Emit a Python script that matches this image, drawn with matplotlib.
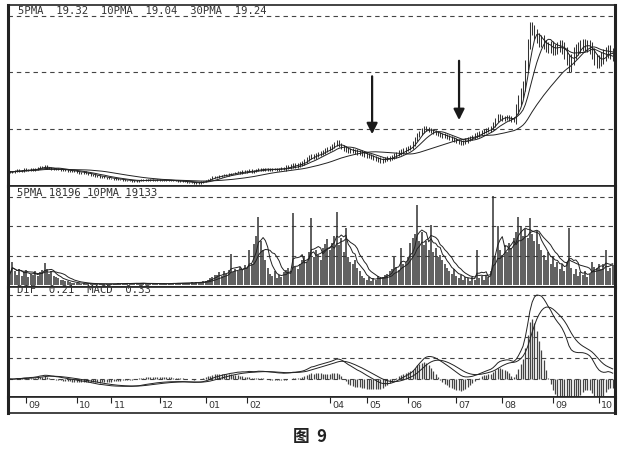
import matplotlib.pyplot as plt
import matplotlib.transforms as mtransforms
import numpy as np
import pandas as pd

# daily closes
close = [
    10.95, 10.90, 11.00, 11.05, 10.98, 11.02, 11.10, 11.06, 11.04, 11.12,
    11.08, 11.15, 11.20, 11.28, 11.25, 11.32, 11.22, 11.18, 11.12, 11.15,
    11.10, 11.14, 11.08, 11.05, 11.07, 11.02, 11.00, 10.96, 11.00, 10.93,
    10.88, 10.85, 10.90, 10.82, 10.78, 10.74, 10.70, 10.66, 10.62, 10.58,
    10.62, 10.55, 10.50, 10.46, 10.48, 10.44, 10.42, 10.40, 10.38, 10.36,
    10.34, 10.30, 10.33, 10.28, 10.30, 10.26, 10.32, 10.35, 10.33, 10.36,
    10.34, 10.37, 10.35, 10.33, 10.36, 10.34, 10.32, 10.35, 10.33, 10.31,
    10.32, 10.29, 10.30, 10.27, 10.28, 10.24, 10.22, 10.20, 10.18, 10.16,
    10.14, 10.18, 10.15, 10.20, 10.26, 10.34, 10.40, 10.48, 10.56, 10.60,
    10.58, 10.65, 10.68, 10.72, 10.70, 10.78, 10.82, 10.80, 10.88, 10.92,
    10.88, 10.95, 10.90, 10.98, 11.05, 10.96, 11.00, 11.08, 11.15, 11.10,
    11.12, 11.10, 11.14, 11.08, 11.12, 11.15, 11.10, 11.14, 11.18, 11.16,
    11.25, 11.30, 11.35, 11.42, 11.38, 11.45, 11.50, 11.58, 11.70, 11.85,
    12.00, 12.08, 11.98, 12.15, 12.22, 12.28, 12.35, 12.45, 12.55, 12.62,
    12.75, 12.90, 13.00, 12.85, 12.70, 12.58, 12.50, 12.42, 12.48, 12.40,
    12.38, 12.30, 12.35, 12.25, 12.15, 12.10, 12.05, 11.98, 11.90, 11.85,
    11.80, 11.72, 11.78, 11.85, 11.88, 11.92, 12.00, 12.10, 12.20, 12.30,
    12.38, 12.45, 12.55, 12.62, 12.70, 12.95, 13.25, 13.55, 13.70, 13.85,
    14.02, 13.95, 13.88, 13.80, 13.75, 13.68, 13.60, 13.55, 13.50, 13.45,
    13.40, 13.33, 13.25, 13.20, 13.10, 13.05, 12.98, 13.05, 13.15, 13.25,
    13.33, 13.40, 13.50, 13.58, 13.68, 13.75, 13.82, 13.90, 13.95, 14.04,
    14.30, 14.60, 14.85, 14.78, 14.70, 14.75, 14.80, 14.72, 14.60, 14.67,
    15.40, 16.00, 16.50, 17.00, 18.50, 20.00, 21.20, 21.00, 20.70, 20.40,
    20.15, 20.30, 19.95, 19.80, 19.70, 19.85, 19.55, 19.65, 19.80, 19.90,
    19.70, 19.35, 18.90, 18.40, 18.90, 19.35, 19.60, 19.75, 19.90, 19.95,
    19.90, 19.85, 19.70, 19.30, 18.90, 18.70, 18.80, 19.00, 19.20, 19.40,
    19.55, 19.30, 19.15,
]

# daily volume in thousands
volume = [
    10, 20, 12, 9, 14, 8, 11, 13, 7, 10,
    9, 12, 8, 11, 13, 19, 14, 10, 12, 8,
    7, 6, 5, 4.5, 4, 3.5, 3, 2.5, 2.2, 2,
    1.8, 1.5, 2, 1.6, 1.4, 1.2, 1.5, 1.3, 1.1, 1.4,
    1.2, 1.4, 1.0, 1.3, 1.6, 1.2, 1.5, 1.8, 1.4, 1.6,
    1.8, 2.0, 1.5, 1.7, 2.2, 1.9, 1.6, 2.0, 1.8, 1.5,
    1.3, 1.5, 1.8, 1.4, 1.6, 1.2, 1.5, 1.7, 1.4, 1.6,
    1.9, 2.2, 1.8, 2.0, 1.7, 2.3, 2.1, 1.8, 2.4, 2.6,
    2.2, 2.8, 2.5, 3.0, 3.5, 4.0, 5.0, 6.5, 7.0, 8.5,
    9, 11, 8, 12, 10, 13, 27, 11, 14, 12,
    16, 13, 17, 15, 30, 18, 35, 42, 58, 38,
    30, 22, 15, 10, 8, 12, 6, 9, 7, 11,
    13, 15, 12, 61, 16, 14, 18, 22, 25, 20,
    28, 57, 24, 30, 26, 22, 32, 35, 39, 30,
    36, 42, 62, 34, 40, 28, 49, 24, 20, 18,
    22, 15, 12, 8, 6, 5, 7, 4, 6, 5,
    8, 6, 7, 9, 10, 12, 14, 24, 16, 13,
    32, 18, 20, 24, 36, 40, 44, 68, 38, 45,
    34, 38, 30, 51, 28, 32, 24, 26, 22, 18,
    15, 12, 10, 14, 8, 6, 9, 5, 7, 6,
    4, 7, 5, 30, 6, 8, 5, 9, 7, 12,
    76, 25, 50, 30, 26, 34, 28, 36, 32, 40,
    45, 58, 50, 42, 48, 40, 57, 44, 38, 46,
    35, 30, 26, 22, 28, 18, 24, 16, 20, 14,
    18, 12, 20, 49, 15, 10, 14, 8, 11, 9,
    12, 7, 10, 20, 16, 15, 18, 14, 18, 30,
    12, 15, 17,
]

# extra high/low reach of the price bars, one value per 20 days
bar_spread = [0.07, 0.07, 0.05, 0.04, 0.05, 0.08, 0.14, 0.16, 0.16, 0.15, 0.16, 0.35, 0.40, 0.40]

month_days = [7, 29, 44, 65, 85, 103, 139, 155, 173, 194, 214, 236, 256]
month_labels = ['09', '10', '11', '12', '01', '02', '04', '05', '06', '07', '08', '09', '10']

arrow_days = [157.4, 195.2]
arrow_tops = [17.7, 18.8]
arrow_tips = [13.6, 14.6]

price_text = '5PMA  19.32  10PMA  19.04  30PMA  19.24'
vol_text = '5PMA 18196 10PMA 19133'
macd_text = 'DIF  0.21  MACD  0.33'

s = pd.Series(close)
days = np.arange(len(close))
prev = s.shift(1).fillna(s.iloc[0])
spread = np.repeat(bar_spread, 20)[:len(close)]
hi = np.maximum(prev, s) + spread
lo = np.minimum(prev, s) - spread

ma5 = s.rolling(5, min_periods=1).mean()
ma10 = s.rolling(10, min_periods=1).mean()
ma30 = s.rolling(30, min_periods=1).mean()

v = pd.Series(volume)
vma5 = v.rolling(5, min_periods=1).mean()
vma10 = v.rolling(10, min_periods=1).mean()

ema12 = s.ewm(span=12, adjust=False).mean()
ema26 = s.ewm(span=26, adjust=False).mean()
dif = ema12 - ema26
dea = dif.ewm(span=9, adjust=False).mean()
hist = 2 * (dif - dea)

W, H = 620, 458
fig = plt.figure(figsize=(W / 100, H / 100), dpi=100)

def box(top, bottom):
    return [8 / W, 1 - bottom / H, 607 / W, (bottom - top) / H]

ax1 = fig.add_axes(box(5, 186))
ax2 = fig.add_axes(box(186, 287))
ax3 = fig.add_axes(box(287, 397))
ax4 = fig.add_axes(box(397, 413))

xlim = (-0.9, 263.0)
ink = '#222222'
grid_kw = dict(color='#444444', lw=0.8, ls=(0, (4, 3.5)))

for ax in (ax1, ax2, ax3, ax4):
    ax.set_xlim(*xlim)
    ax.set_xticks([])
    ax.tick_params(left=False, labelleft=False, bottom=False, labelbottom=False)
    for side in ('top', 'bottom'):
        ax.spines[side].set_linewidth(1.2)
        ax.spines[side].set_color(ink)
    for side in ('left', 'right'):
        ax.spines[side].set_linewidth(2.2)
        ax.spines[side].set_color(ink)

# price panel
ax1.set_ylim(9.93, 22.75)
ax1.set_yticks([14, 18, 22])
ax1.yaxis.grid(True, **grid_kw)
ax1.vlines(days, lo, hi, color='#333333', lw=0.75)
ax1.plot(days, ma5, color=ink, lw=0.7)
ax1.plot(days, ma10, color=ink, lw=0.7)
ax1.plot(days, ma30, color=ink, lw=0.7)
for d, top, tip in zip(arrow_days, arrow_tops, arrow_tips):
    ax1.annotate('', xy=(d, tip), xytext=(d, top),
                 arrowprops=dict(arrowstyle='-|>', color='#1a1a1a', lw=1.6,
                                 mutation_scale=16, shrinkA=0, shrinkB=0))
ax1.text(0.016, 0.967, price_text, transform=ax1.transAxes, va='center', ha='left',
         family='DejaVu Sans Mono', fontsize=7.6, color='#333333')

# volume panel
ax2.set_ylim(-1.3, 84.3)
ax2.set_yticks([25, 50, 75])
ax2.yaxis.grid(True, **grid_kw)
ax2.vlines(days, 0, v, color='#333333', lw=1.1)
ax2.plot(days, vma5, color=ink, lw=0.7)
ax2.plot(days, vma10, color=ink, lw=0.7)
ax2.text(0.015, 0.93, vol_text, transform=ax2.transAxes, va='center', ha='left',
         family='DejaVu Sans Mono', fontsize=7.6, color='#333333')

# MACD panel: four grid steps up to the DIF peak, as in the reference
step = dif.max() / 4
ax3.set_ylim(-step * 18 / 21, step * 92 / 21)
ax3.set_yticks([0, step, 2 * step, 3 * step, 4 * step])
ax3.yaxis.grid(True, **grid_kw)
ax3.vlines(days, 0, hist, color='#444444', lw=0.9)
ax3.plot(days, dif, color=ink, lw=0.7)
ax3.plot(days, dea, color=ink, lw=0.7)
ax3.text(0.015, 0.97, macd_text, transform=ax3.transAxes, va='center', ha='left',
         family='DejaVu Sans Mono', fontsize=7.6, color='#333333')

# date strip
ax4.set_ylim(0, 1)
ax4.set_xticks(month_days)
ax4.tick_params(axis='x', top=True, bottom=False, direction='in', length=4.5,
                width=0.8, color=ink, labelbottom=False)
shift = mtransforms.offset_copy(ax4.transData, fig=fig, x=2.5, y=0, units='dots')
for d, lab in zip(month_days, month_labels):
    ax4.text(d, 0.45, lab, transform=shift, ha='left', va='center',
             family='DejaVu Sans', fontsize=6.8, color='#333333')

fig.text(0.5, 1 - 437 / H, '图  9', ha='center', va='center', fontsize=12,
         fontweight='bold', family=['Noto Sans CJK SC', 'DejaVu Sans'], color='#222222')

fig.savefig('out.png', dpi=100)
